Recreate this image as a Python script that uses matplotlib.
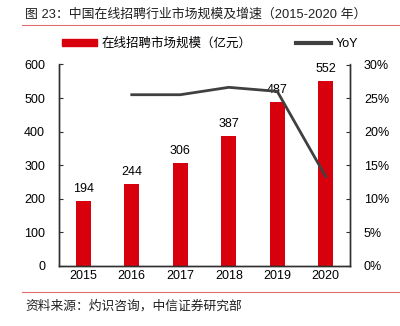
import matplotlib
matplotlib.use('Agg')
import matplotlib.pyplot as plt
from matplotlib.lines import Line2D
from matplotlib.patches import Patch

plt.rcParams['font.family'] = ['Liberation Sans', 'Noto Sans CJK SC']

years = ['2015', '2016', '2017', '2018', '2019', '2020']
market = [194, 244, 306, 387, 487, 552]
yoy_years = ['2016', '2017', '2018', '2019', '2020']
yoy = [25.5, 25.5, 26.6, 26.0, 13.3]

red = '#d9000d'
dark = '#404040'

fig = plt.figure(figsize=(4.0, 3.26), dpi=100)
ax = fig.add_axes([59 / 400, 1 - 266 / 326, 291 / 400, 201.5 / 326])
ax2 = ax.twinx()

x = list(range(len(years)))
ax.bar(x, market, width=0.3, color=red, zorder=2)
for xi, v in zip(x, market):
    ax.text(xi, v + 18, str(v), ha='center', va='bottom', fontsize=9)

xy = [years.index(y) for y in yoy_years]
ax2.plot(xy, yoy, color=dark, lw=2, zorder=3)

ax.set_xlim(-0.5, 5.5)
ax.set_ylim(0, 600)
ax.set_yticks(range(0, 601, 100))
ax2.set_ylim(0, 30)
ax2.set_yticks(range(0, 31, 5))
ax2.set_yticklabels([f'{t}%' for t in range(0, 31, 5)])
ax.set_xticks(x)
ax.set_xticklabels(years)

for a in (ax, ax2):
    a.spines['top'].set_visible(False)
    for s in ('left', 'right', 'bottom'):
        a.spines[s].set_color('#303030')
        a.spines[s].set_linewidth(1.0)
    a.tick_params(labelsize=9, length=3, direction='in', color='#303030')
ax.tick_params(axis='x', length=0, pad=3)
ax.tick_params(axis='y', pad=10)
ax2.tick_params(axis='y', pad=10)
ax.set_zorder(ax2.get_zorder() - 1)
ax.patch.set_visible(False)
ax2.patch.set_visible(False)

handles = [Patch(color=red), Line2D([], [], color=dark, lw=3)]
labels = ['在线招聘市场规模（亿元）', 'YoY']
fig.legend(handles, labels, loc='center left', bbox_to_anchor=(62 / 400, 1 - 44 / 326),
           ncol=2, frameon=False, fontsize=9, handlelength=2.8, handleheight=0.5,
           columnspacing=3.5, handletextpad=0.4, borderaxespad=0, borderpad=0)

fig.text(25 / 400, 1 - 15 / 326, '图 23：中国在线招聘行业市场规模及增速（2015-2020 年）',
         fontsize=9.3, va='center', ha='left', color='#202020')
fig.add_artist(Line2D([22 / 400, 1.0], [1 - 24.5 / 326] * 2, color='#e07070', lw=0.8))
fig.add_artist(Line2D([22 / 400, 1.0], [1 - 292 / 326] * 2, color='#e07070', lw=0.8))
fig.text(25 / 400, 1 - 306 / 326, '资料来源：灼识咨询，中信证券研究部',
         fontsize=9.2, va='center', ha='left', color='#202020')

fig.savefig('out.png', dpi=100)
